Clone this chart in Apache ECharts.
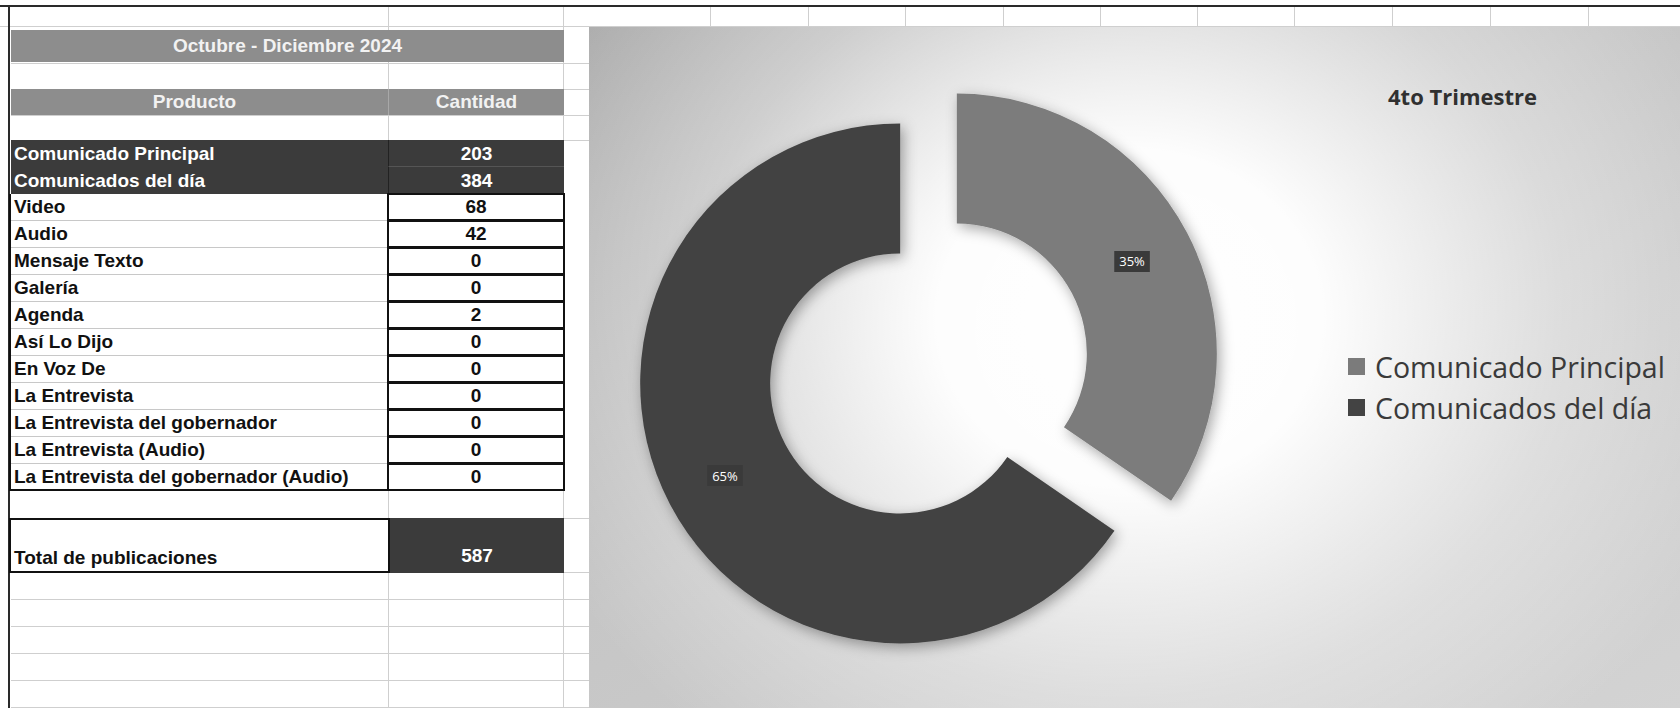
<!DOCTYPE html>
<html>
<head>
<meta charset="utf-8">
<script src="https://cdn.jsdelivr.net/npm/echarts@6/dist/echarts.min.js"></script>
<style>
  html, body { margin: 0; padding: 0; background: #fff; }
  body { width: 1680px; height: 708px; position: relative; overflow: hidden; font-family: "Liberation Sans", Arial, sans-serif; }
  .abs { position: absolute; box-sizing: border-box; }
  .cell { position: absolute; box-sizing: border-box; font-weight: bold; font-size: 19px; line-height: 27px; white-space: nowrap; overflow: hidden; }
  #chart { position: absolute; left: 589px; top: 27px; width: 1091px; height: 681px;
    background:
      radial-gradient(ellipse 640px 560px at 540px 290px, rgba(255,255,255,1) 0%, rgba(255,255,255,0.97) 30%, rgba(255,255,255,0.35) 68%, rgba(255,255,255,0) 100%),
      linear-gradient(150deg, #adadad 0%, #c6c6c6 45%, #d3d3d3 100%); }
</style>
</head>
<body>
<div id="sheet"></div>
<div id="chart"></div>
<script>
// ---- data ----
const periodTitle = 'Octubre - Diciembre 2024';
const headerLabels = ['Producto', 'Cantidad'];
const productos = ['Comunicado Principal', 'Comunicados del día', 'Video', 'Audio', 'Mensaje Texto', 'Galería', 'Agenda', 'Así Lo Dijo', 'En Voz De', 'La Entrevista', 'La Entrevista del gobernador', 'La Entrevista (Audio)', 'La Entrevista del gobernador (Audio)'];
const cantidades = [203, 384, 68, 42, 0, 0, 2, 0, 0, 0, 0, 0, 0];
const totalLabel = 'Total de publicaciones';
const totalValue = 587;
const chartTitle = '4to Trimestre';
const pieCategories = ['Comunicado Principal', 'Comunicados del día'];
const pieValues = [203, 384];

// ---- spreadsheet drawing ----
const sheet = document.getElementById('sheet');
function box(css, text) {
  const d = document.createElement('div');
  d.className = text !== undefined ? 'cell' : 'abs';
  Object.assign(d.style, css);
  if (text !== undefined) d.textContent = text;
  sheet.appendChild(d);
  return d;
}
const X0 = 11, XM = 388, X1 = 564, ROW = 27, Y0 = 140;
const grid = '#cfcfcf';
// top strip grid
[388, 563, 710, 808, 905, 1003, 1100, 1197, 1294, 1392, 1490, 1588].forEach(x => box({left: x + 'px', top: '7px', width: '1px', height: '20px', background: grid}));
box({left: '0px', top: '26px', width: '1680px', height: '1px', background: grid});
// horizontal grid lines in the sheet area
[63, 89, 115, 140, 518, 572, 599, 626, 653, 680, 707].forEach(y => box({left: X0 + 'px', top: y + 'px', width: (589 - X0) + 'px', height: '1px', background: grid}));
box({left: XM + 'px', top: '27px', width: '1px', height: '681px', background: grid});
box({left: '563px', top: '27px', width: '1px', height: '681px', background: grid});
// outer frame
box({left: '0px', top: '5px', width: '1680px', height: '2px', background: '#2a2a2a'});
box({left: '8px', top: '5px', width: '2px', height: '703px', background: '#2a2a2a'});

// header bars
box({left: X0 + 'px', top: '30px', width: (X1 - X0) + 'px', height: '32px', background: '#8d8d8d', color: '#f2f2f2', textAlign: 'center', lineHeight: '32px'}, periodTitle);
box({left: X0 + 'px', top: '89px', width: (XM - X0) + 'px', height: '26px', background: '#8d8d8d', color: '#f2f2f2', textAlign: 'center', lineHeight: '26px', paddingRight: '10px'}, headerLabels[0]);
box({left: XM + 'px', top: '89px', width: (X1 - XM) + 'px', height: '26px', background: '#8d8d8d', color: '#f2f2f2', textAlign: 'center', lineHeight: '26px', borderLeft: '1px solid #a8a8a8'}, headerLabels[1]);

// data rows
productos.forEach((p, i) => {
  const y = Y0 + i * ROW;
  const dark = i < 2;
  if (dark) {
    box({left: X0 + 'px', top: y + 'px', width: (XM - X0) + 'px', height: ROW + 'px', background: '#3b3b3b', color: '#fff', paddingLeft: '3px'}, p);
    box({left: XM + 'px', top: y + 'px', width: (X1 - XM) + 'px', height: ROW + 'px', background: '#3b3b3b', color: '#fff', textAlign: 'center', borderLeft: '1px solid #222', borderBottom: i === 0 ? '1px solid #555' : 'none'}, String(cantidades[i]));
  } else {
    box({left: X0 + 'px', top: y + 'px', width: (XM - X0) + 'px', height: ROW + 'px', background: '#fff', color: '#111', paddingLeft: '3px', borderBottom: i === productos.length - 1 ? '2px solid #111' : '1px solid #c8c8c8', lineHeight: '26px'}, p);
    box({left: (XM - 1) + 'px', top: (y - 1) + 'px', width: (X1 - XM + 2) + 'px', height: (ROW + 1) + 'px', background: '#fff', color: '#111', textAlign: 'center', border: '2px solid #111', lineHeight: '23px'}, String(cantidades[i]));
  }
});
// left thick border of the product column
box({left: '9px', top: (Y0 + 2 * ROW) + 'px', width: '2px', height: (11 * ROW) + 'px', background: '#111'});

// total row
box({left: '9px', top: '518px', width: (XM - 9 + 1) + 'px', height: '55px', border: '2px solid #111', borderRight: 'none', background: '#fff', color: '#111', paddingLeft: '3px', paddingTop: '24px'}, totalLabel);
box({left: XM + 'px', top: '518px', width: (X1 - XM) + 'px', height: '55px', background: '#3b3b3b', color: '#fff', textAlign: 'center', paddingTop: '24px', borderLeft: '2px solid #111'}, String(totalValue));

// ---- chart ----
const chart = echarts.init(document.getElementById('chart'), null, {renderer: 'svg', width: 1091, height: 681});
const lightC = '#7b7b7b', darkC = '#434343';
chart.setOption({
  animation: false,
  backgroundColor: 'transparent',
  color: [lightC, darkC],
  graphic: [{
    type: 'text', left: 799, top: 58,
    style: {text: chartTitle, font: 'bold 22px "Open Sans"', fill: '#303030'}
  }],
  legend: {
    orient: 'vertical', left: 754, top: 320,
    itemWidth: 17, itemHeight: 17, itemGap: 12, icon: 'rect',
    selectedMode: false,
    textStyle: {fontFamily: 'Open Sans', fontSize: 28.5, color: '#3a3a3a', padding: [0, 0, 0, 5]},
    data: pieCategories
  },
  series: [{
    type: 'pie',
    center: [339.5, 341.5],
    radius: [130, 260],
    startAngle: 90,
    clockwise: true,
    selectedMode: 'multiple',
    selectedOffset: 32,
    percentPrecision: 0,
    avoidLabelOverlap: false,
    emphasis: {disabled: true},
    itemStyle: {shadowBlur: 14, shadowColor: 'rgba(0,0,0,0.35)', shadowOffsetX: 3, shadowOffsetY: 4},
    label: {
      show: true, position: 'inside', formatter: '{d}%',
      color: '#fff', fontFamily: 'Open Sans', fontSize: 13,
      backgroundColor: '#3a3a3a', padding: [4, 5]
    },
    labelLine: {show: false},
    data: pieCategories.map((n, i) => ({name: n, value: pieValues[i], selected: true}))
  }]
});
</script>
</body>
</html>
